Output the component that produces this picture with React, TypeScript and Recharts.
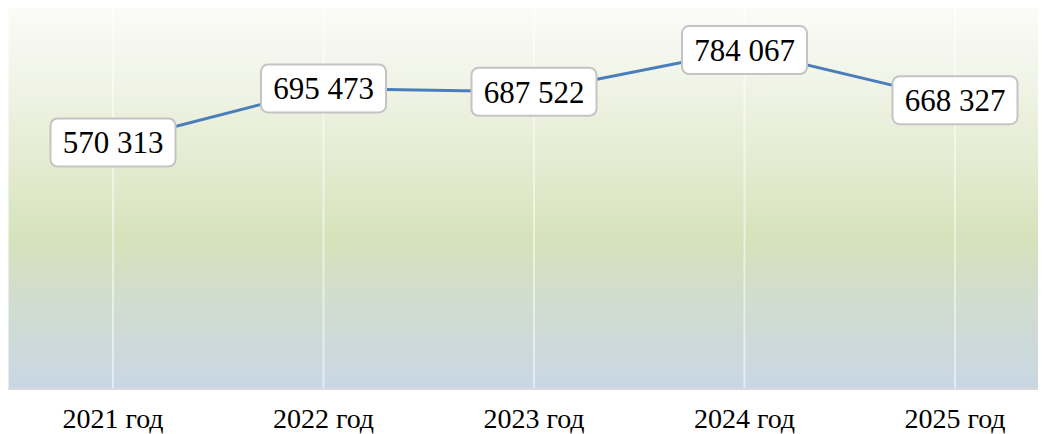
import React from "react";
import { LineChart, Line, XAxis, YAxis, CartesianGrid, LabelList } from "recharts";

const years = ["2021 год", "2022 год", "2023 год", "2024 год", "2025 год"];
const values = [570313, 695473, 687522, 784067, 668327];

const data = years.map((name, i) => ({ name, value: values[i] }));

const W = 1038;
const H = 434;
const PLOT_H = 389;
const SERIF = "'Liberation Serif', 'Times New Roman', serif";

const fmt = (v: number) => String(v).replace(/\B(?=(\d{3})+(?!\d))/g, " ");

function ValueBox(props: any) {
    const { x, y, value } = props;
    const w = 125;
    const h = 48;
    return (
        <g>
            <rect
                x={x - w / 2}
                y={y - h / 2}
                width={w}
                height={h}
                rx={7}
                ry={7}
                fill="#ffffff"
                stroke="#c4c4c4"
                strokeWidth={2}
            />
            <text
                x={x}
                y={y + 11}
                textAnchor="middle"
                style={{ fontFamily: SERIF, fontSize: 31, fill: "#000" }}
            >
                {fmt(value)}
            </text>
        </g>
    );
}

export default function App() {
    return (
        <div style={{ position: "relative", width: W, height: H, marginTop: -8 }}>
            <div
                style={{
                    position: "absolute",
                    left: 0,
                    top: 0,
                    width: W,
                    height: PLOT_H,
                    background:
                        "linear-gradient(to bottom, #fcfcf9 0%, #f2f5ea 18%, #e6ecd3 40%, #d6e2bb 62%, #d1ddcd 76%, #c9d7e5 100%)",
                }}
            />
            <LineChart
                width={W}
                height={H}
                data={data}
                margin={{ top: 0, right: 0, bottom: 0, left: 0 }}
                style={{ position: "absolute", left: 0, top: 0 }}
            >
                <CartesianGrid horizontal={false} vertical stroke="#ffffff" strokeOpacity={0.5} strokeWidth={2} />
                <XAxis
                    dataKey="name"
                    padding={{ left: 105, right: 91 }}
                    height={H - PLOT_H}
                    axisLine={{ stroke: "#d9d9d9", strokeWidth: 2 }}
                    tickLine={false}
                    tickSize={0}
                    tickMargin={19}
                    tick={{ fill: "#000", fontSize: 28, fontFamily: SERIF }}
                    interval={0}
                />
                <YAxis hide domain={[0, 900000]} />
                <Line
                    type="linear"
                    dataKey="value"
                    stroke="#4a7ebb"
                    strokeWidth={3}
                    dot={false}
                    isAnimationActive={false}
                >
                    <LabelList dataKey="value" content={<ValueBox />} />
                </Line>
            </LineChart>
        </div>
    );
}
